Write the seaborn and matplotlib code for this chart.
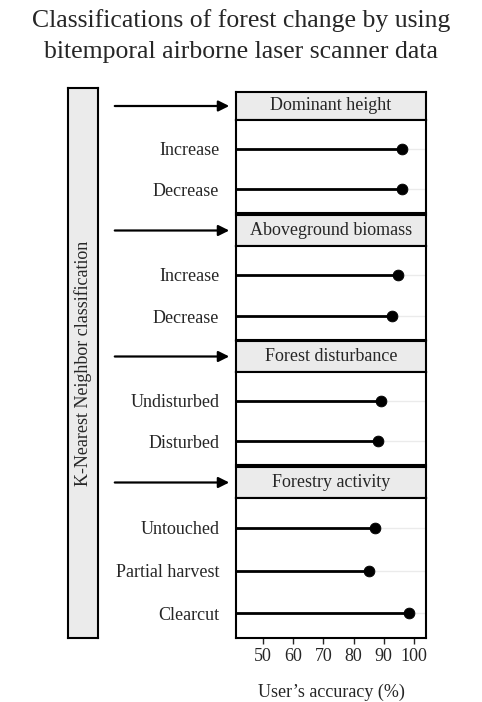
import matplotlib
matplotlib.use("Agg")
import matplotlib.pyplot as plt
import pandas as pd
import seaborn as sns

sns.set_theme(style="white")
plt.rcParams["font.family"] = ["Liberation Serif", "DejaVu Serif"]

groups = ["Dominant height", "Aboveground biomass", "Forest disturbance", "Forestry activity"]
classes = [["Increase", "Decrease"],
           ["Increase", "Decrease"],
           ["Undisturbed", "Disturbed"],
           ["Untouched", "Partial harvest", "Clearcut"]]
accuracy = [[96, 96], [94.7, 92.7], [89, 88], [87, 85, 98.2]]

W, H = 482, 702
fig = plt.figure(figsize=(W / 100, H / 100), dpi=100)

def px(x0, y0, x1, y1):
    return [x0 / W, 1 - y1 / H, (x1 - x0) / W, (y1 - y0) / H]

fig.text(0.5, 1 - 21 / H, "Classifications of forest change by using", ha="center", va="center", fontsize=18.5)
fig.text(0.5, 1 - 52 / H, "bitemporal airborne laser scanner data", ha="center", va="center", fontsize=18.5)

# left box
lax = fig.add_axes(px(68, 88, 98, 638))
lax.set_facecolor("#ebebeb")
lax.set_xticks([]); lax.set_yticks([])
for s in lax.spines.values():
    s.set_color("black"); s.set_linewidth(1.5)
lax.text(0.5, 0.5, "K-Nearest Neighbor classification", rotation=90, ha="center", va="center",
         fontsize=13, transform=lax.transAxes)

headers = [(92, 120), (215, 246), (341, 372), (467, 498)]
panels = [(120, 213), (246, 340), (372, 465), (498, 638)]
x0, x1 = 236, 426

for i, g in enumerate(groups):
    hy0, hy1 = headers[i]
    hax = fig.add_axes(px(x0, hy0, x1, hy1))
    hax.set_facecolor("#ebebeb")
    hax.set_xticks([]); hax.set_yticks([])
    for s in hax.spines.values():
        s.set_color("black"); s.set_linewidth(1.5)
    hax.text(0.5, 0.5, g, ha="center", va="center", fontsize=13, transform=hax.transAxes)
    yc = 1 - (hy0 + hy1) / 2 / H
    fig.add_artist(matplotlib.patches.FancyArrowPatch((112 / W, yc), (232 / W, yc),
                   transform=fig.transFigure, arrowstyle="-|>", mutation_scale=16,
                   color="black", lw=1.6))

    py0, py1 = panels[i]
    ax = fig.add_axes(px(x0, py0, x1, py1))
    df = pd.DataFrame({"cls": classes[i], "acc": accuracy[i], "pos": range(len(classes[i]))})
    n = len(df)
    for p in df["pos"]:
        ax.axhline(p, color="#ebebeb", lw=1, zorder=0)
    ax.hlines(df["pos"], 41, df["acc"], color="black", lw=2)
    sns.scatterplot(data=df, x="acc", y="pos", ax=ax, color="black", s=60, zorder=3, edgecolor="black")
    ax.set_xlim(41, 104)
    ax.set_ylim(n - 1 + 0.58, -0.7)
    ax.set_yticks(df["pos"])
    ax.set_yticklabels(df["cls"], fontsize=13)
    ax.tick_params(axis="y", length=0, pad=12)
    ax.set_ylabel("")
    for s in ax.spines.values():
        s.set_color("black"); s.set_linewidth(1.5)
    if i < 3:
        ax.set_xticks([])
        ax.set_xlabel("")
    else:
        ax.set_xticks([50, 60, 70, 80, 90, 100])
        ax.tick_params(axis="x", bottom=True, length=4, width=1, labelsize=13, pad=3)
        ax.set_xlabel("User’s accuracy (%)", fontsize=13, labelpad=14)

fig.savefig("out.png", dpi=100)
